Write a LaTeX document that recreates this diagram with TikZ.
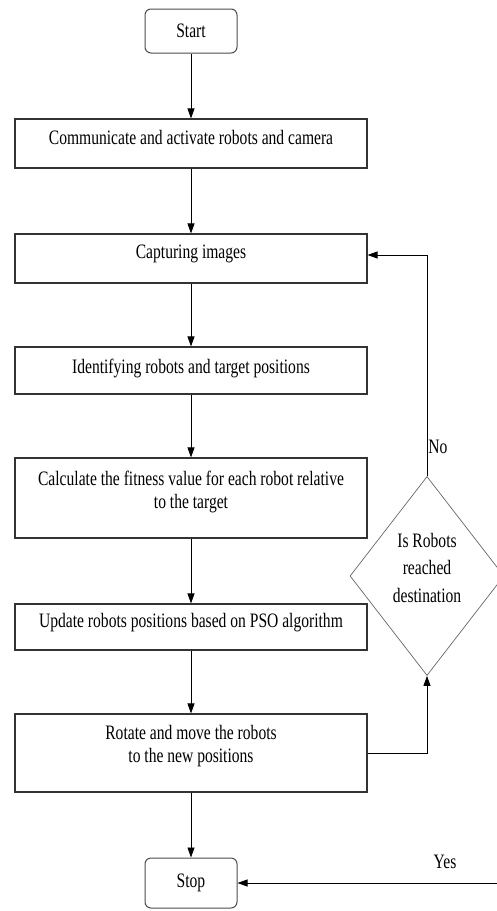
\documentclass[tikz,border=0pt]{standalone}
\usepackage{fontspec}
\setmainfont{Liberation Serif}[FakeStretch=0.76]
\usetikzlibrary{arrows.meta, positioning, shapes.geometric}

\tikzset{
  box/.style={draw=black!80, line width=1.1pt, minimum width=352pt, inner sep=0pt},
  term/.style={draw=black!70, line width=1pt, rounded corners=6pt,
               minimum width=92pt, inner sep=0pt},
  decide/.style={diamond, draw=black!60, line width=0.7pt, minimum width=154pt,
                 minimum height=199pt, inner sep=0pt},
  txt/.style={font=\fontsize{20.5}{23}\selectfont, align=center},
  flow/.style={-{Triangle[length=10pt,width=7pt]}, line width=0.9pt},
}

\begin{document}
\begin{tikzpicture}[x=1pt, y=-1pt]
  \useasboundingbox (0,0) rectangle (496,911);

  % Anfang und Ende
  \node[term, txt, minimum height=44pt] (start) at (191,31) {Start};
  \node[term, txt, minimum height=50pt] (stop) at (191,883) {Stop};

  % Schritte
  \node[box, minimum height=49pt,
        label={[txt, yshift=6.5pt]center:Communicate and activate robots and camera}]
        (comm) at (191,143.5) {};
  \node[box, minimum height=49pt,
        label={[txt, yshift=5pt]center:Capturing images}] (capt) at (191,258.5) {};
  \node[box, minimum height=47pt,
        label={[txt, yshift=2pt]center:Identifying robots and target positions}]
        (ident) at (191,370.5) {};
  \node[box, minimum height=80pt,
        label={[txt, yshift=6.5pt]center:{Calculate the fitness value for each robot relative\\to the target}}]
        (fitness) at (191,498) {};
  \node[box, minimum height=46pt,
        label={[txt, yshift=4.5pt]center:Update robots positions based on PSO algorithm}]
        (upd) at (191,627) {};
  \node[box, minimum height=78pt,
        label={[txt, yshift=6.5pt]center:{Rotate and move the robots\\to the new positions}}]
        (move) at (191,753) {};

  % Abfrage
  \node[decide, label={[txt, font=\fontsize{20.5}{27.5}\selectfont, yshift=8.5pt]center:{Is Robots\\reached\\destination}}]
        (check) at (427,576) {};

  % Pfeile
  \draw[flow] (start) -- (comm);
  \foreach \a/\b in {comm/capt, capt/ident, ident/fitness, fitness/upd, upd/move, move/stop}
    \draw[flow] (\a) -- (\b);
  \draw[flow] (check.north) |- ([yshift=3.5pt]capt.east);
  \draw[flow] (move.east) -| (check.south);
  \coordinate (yesin) at (497,883);
  \draw[flow] (yesin) -- (stop.east);

  % Beschriftungen
  \node[txt] (no) at (438,447) {No};
  \node[txt] (yes) at (445,862) {Yes};
\end{tikzpicture}
\end{document}
